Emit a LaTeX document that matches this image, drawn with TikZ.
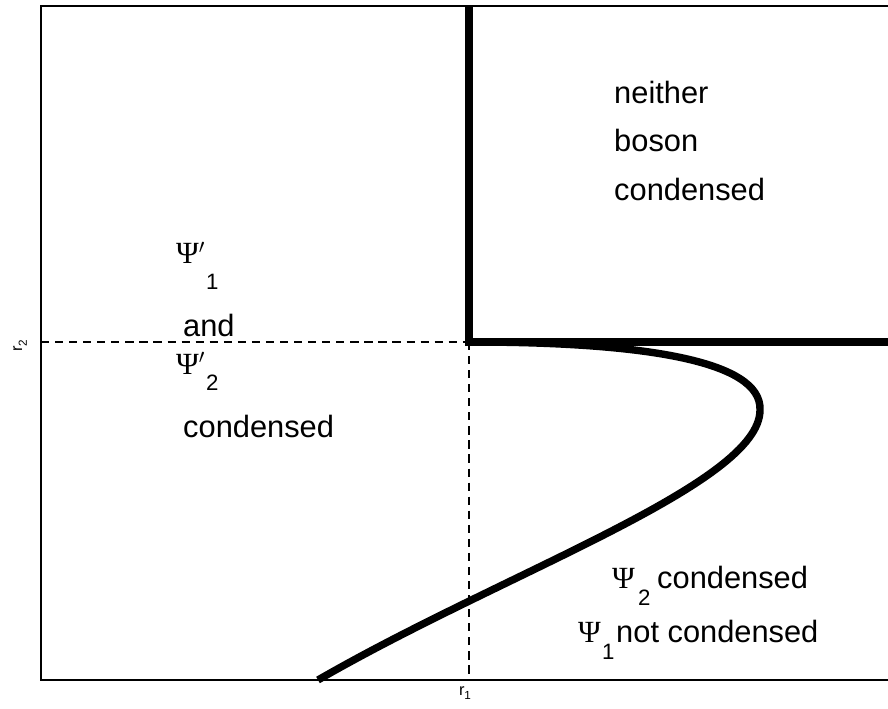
\documentclass[tikz,border=0pt]{standalone}
\usepackage{fontspec}
\setmainfont{Liberation Sans}
\newfontfamily\psifont{Liberation Serif}
\newcommand{\PsiG}{{\psifont Ψ}}
\newcommand{\rsub}[1]{r\raisebox{-4pt}{\fontsize{10}{12}\selectfont #1}}
\begin{document}
\begin{tikzpicture}[x=0.03cm,y=-0.03cm,
  lbl/.style={font=\fontsize{26.3}{30}\selectfont,anchor=base west,inner sep=0pt},
  sub/.style={font=\fontsize{19}{22}\selectfont,anchor=base west,inner sep=0pt},
  axlbl/.style={font=\fontsize{14}{16}\selectfont,inner sep=0pt},
  thickline/.style={line width=6.3pt,line cap=butt,line join=miter},
  frame/.style={line width=1.2pt},
  guide/.style={line width=0.9pt,dash pattern=on 7pt off 5pt}]
\useasboundingbox (0,0) rectangle (888,709);
\coordinate (tl) at (41,6);
\coordinate (bl) at (41,680);
\coordinate (br) at (888,680);
\coordinate (tr) at (888,6);
\coordinate (c) at (469,342);
\coordinate (ctop) at (469,6);
\coordinate (cright) at (888,342);
\coordinate (cleft) at (41,342);
\coordinate (cbot) at (469,680);
\coordinate (nose) at (760,410);
\coordinate (cend) at (318,680);
% frame
\draw[frame] (tr) -- (tl) -- (bl) -- (br);
% dashed guides
\draw[guide] (cleft) -- (c);
\draw[guide] (c) -- (cbot);
% thick boundaries
\draw[thickline] (ctop) -- (c) -- (cright);
\draw[thickline] (c) .. controls (640,342) and (762,360) .. (nose)
  .. controls (760,484) and (505,572) .. (cend);
% axis labels
\node[axlbl,rotate=90] (r2) at (20,346) {\rsub{2}};
\node[axlbl] (r1) at (465,693) {\rsub{1}};
% upper right
\node[lbl] (t1) at (614,104) {neither};
\node[lbl] (t2) at (614,152) {boson};
\node[lbl] (t3) at (614,201) {condensed};
% left
\node[lbl] (p1) at (176,264) {\PsiG$'$};
\node[sub] (s1) at (206,290) {1};
\node[lbl] (and) at (183,337) {and};
\node[lbl] (p2) at (176,374) {\PsiG$'$};
\node[sub] (s2) at (206,390) {2};
\node[lbl] (cl) at (183,437) {condensed};
% bottom right
\node[lbl] (q2) at (612,588) {\PsiG};
\node[sub] (qs2) at (638,605) {2};
\node[lbl] (q2t) at (657,588) {condensed};
\node[lbl] (q1) at (578,642) {\PsiG};
\node[sub] (qs1) at (602,659) {1};
\node[lbl] (q1t) at (616,642) {not condensed};
\end{tikzpicture}
\end{document}
